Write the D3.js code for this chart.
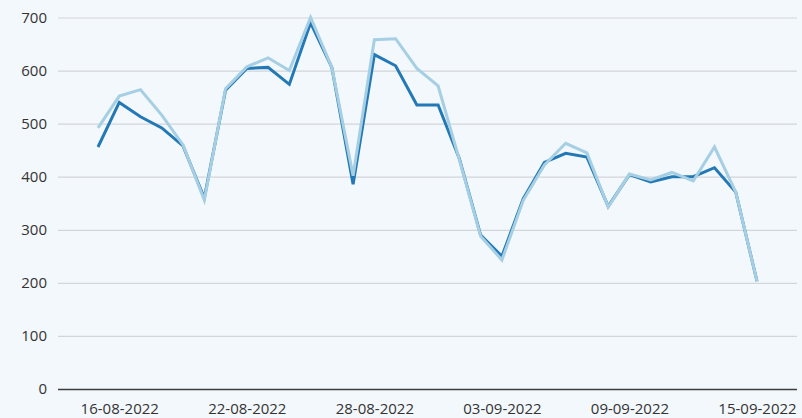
<!DOCTYPE html>
<html lang="en">
  <head>
    <meta charset="utf-8">
    <title>Daily values, Aug-Sep 2022</title>
    <style>
      body { margin: 0; background: #f3f8fc; }
      svg { display: block; }
      svg text { font-family: "Open Sans", "Noto Sans", sans-serif; }
    </style>
  </head>
  <script src="https://cdn.jsdelivr.net/npm/d3@7/dist/d3.min.js" charset="utf-8"></script>
  <body>
    <script type="text/javascript">

      // one point per day, 15-08-2022 .. 15-09-2022
      var dates = ["15-08-2022","16-08-2022","17-08-2022","18-08-2022","19-08-2022","20-08-2022",
                   "21-08-2022","22-08-2022","23-08-2022","24-08-2022","25-08-2022","26-08-2022",
                   "27-08-2022","28-08-2022","29-08-2022","30-08-2022","31-08-2022","01-09-2022",
                   "02-09-2022","03-09-2022","04-09-2022","05-09-2022","06-09-2022","07-09-2022",
                   "08-09-2022","09-09-2022","10-09-2022","11-09-2022","12-09-2022","13-09-2022",
                   "14-09-2022","15-09-2022"];

      var darkSeries  = [456, 540, 513, 492, 458, 360, 563, 604, 606, 574, 690, 606,
                         386, 630, 609, 535, 535, 434, 290, 250, 358, 427, 444, 437,
                         344, 404, 390, 400, 400, 417, 371, 203];

      var lightSeries = [492, 552, 564, 516, 460, 356, 566, 607, 624, 600, 700, 606,
                         402, 658, 660, 604, 571, 432, 288, 243, 355, 422, 463, 445,
                         343, 405, 394, 408, 392, 456, 371, 203];

      var tickLabels = ["16-08-2022","22-08-2022","28-08-2022","03-09-2022","09-09-2022","15-09-2022"];
      var yTicks = [0, 100, 200, 300, 400, 500, 600, 700];

      var W = 802, H = 418;
      var parseDate = d3.timeParse("%d-%m-%Y");
      var fmt = d3.timeFormat("%d-%m-%Y");

      var x = d3.scaleTime()
          .domain([parseDate(dates[0]), parseDate(dates[dates.length - 1])])
          .range([98, 757]);
      var y = d3.scaleLinear().domain([0, 700]).range([389, 17.5]);

      var svg = d3.select("body").append("svg")
          .attr("width", W)
          .attr("height", H);

      svg.append("rect").attr("width", W).attr("height", H).attr("fill", "#f3f8fc");

      // gridlines + y labels
      var yAxis = d3.axisLeft(y).tickValues(yTicks).tickSize(-(797 - 58)).tickPadding(11);
      var gy = svg.append("g").attr("transform", "translate(58,0)").call(yAxis);
      gy.attr("font-family", null);
      gy.select(".domain").remove();
      gy.selectAll(".tick line").attr("stroke", "#d3d6d9").attr("stroke-width", 1.2);
      gy.selectAll(".tick text").attr("fill", "#333").style("font-size", "15px");
      gy.selectAll(".tick").filter(function(d) { return d === 0; }).select("line")
          .attr("stroke", "#3d3d3d").attr("stroke-width", 1.5);

      // x axis labels
      var xAxis = d3.axisBottom(x)
          .tickValues(tickLabels.map(parseDate))
          .tickFormat(fmt)
          .tickSize(0)
          .tickPadding(14);
      var gx = svg.append("g").attr("transform", "translate(0,389)").call(xAxis);
      gx.attr("font-family", null);
      gx.select(".domain").remove();
      gx.selectAll(".tick text").attr("fill", "#333").style("font-size", "15px");

      var line = d3.line()
          .x(function(d, i) { return x(parseDate(dates[i])); })
          .y(function(d) { return y(d); });

      svg.append("path").datum(darkSeries)
          .attr("fill", "none")
          .attr("stroke", "#2279b5")
          .attr("stroke-width", 3)
          .attr("d", line);

      svg.append("path").datum(lightSeries)
          .attr("fill", "none")
          .attr("stroke", "#a6cfe4")
          .attr("stroke-width", 3)
          .attr("d", line);

    </script>
  </body>
</html>
